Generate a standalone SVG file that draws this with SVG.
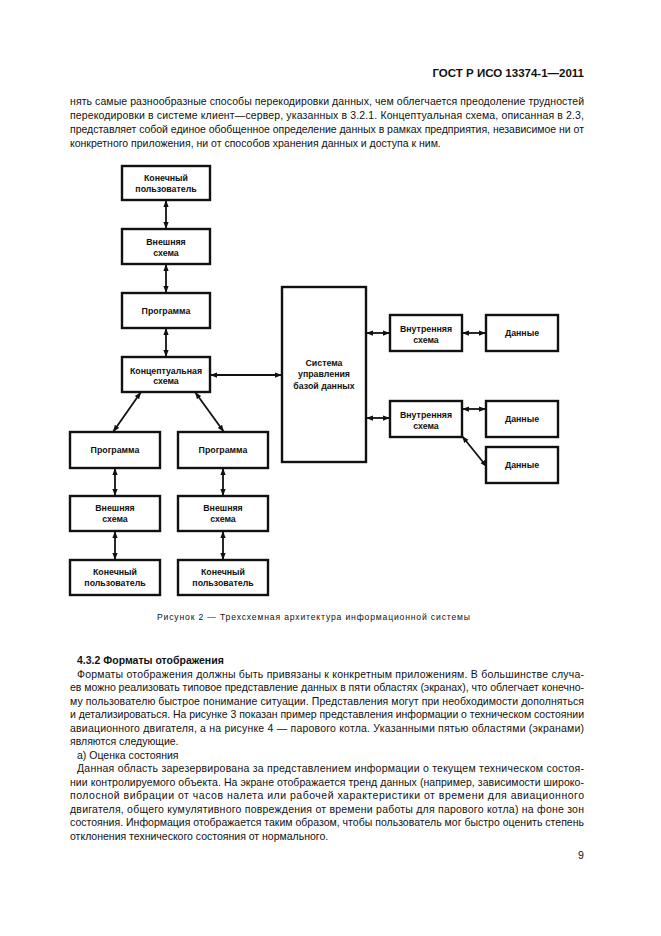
<svg xmlns="http://www.w3.org/2000/svg" width="661" height="936" viewBox="0 0 661 936">
<defs>
<style>
.pg{font-family:"Liberation Sans",Arial,sans-serif;font-size:10.5px;fill:#111}
.hd{font-family:"Liberation Sans",Arial,sans-serif;font-size:11.5px;font-weight:bold;fill:#111}
.bx{fill:#fff;stroke:#111;stroke-width:2.4}
.lb{font-family:"Liberation Sans",Arial,sans-serif;font-size:8.8px;font-weight:bold;fill:#111;text-anchor:middle}
.cn{fill:none;stroke:#111;stroke-width:1.8;marker-start:url(#ah);marker-end:url(#ah)}
.cap{font-family:"Liberation Sans",Arial,sans-serif;font-size:8.6px;fill:#111}
</style>
<marker id="ah" viewBox="0 0 8 6" refX="8" refY="3" markerWidth="7" markerHeight="6" markerUnits="userSpaceOnUse" orient="auto-start-reverse">
<path d="M0,0 L8,3 L0,6 Z" fill="#111"/>
</marker>
</defs>
<rect width="661" height="936" fill="#fff"/>

<text class="hd" x="584" y="77" text-anchor="end">ГОСТ Р ИСО 13374-1—2011</text>

<g id="intro">
<text class="pg" x="70" y="105" textLength="514" lengthAdjust="spacing">нять самые разнообразные способы перекодировки данных, чем облегчается преодоление трудностей</text>
<text class="pg" x="70" y="119" textLength="514" lengthAdjust="spacing">перекодировки в системе клиент—сервер, указанных в 3.2.1. Концептуальная схема, описанная в 2.3,</text>
<text class="pg" x="70" y="133" textLength="514" lengthAdjust="spacing">представляет собой единое обобщенное определение данных в рамках предприятия, независимое ни от</text>
<text class="pg" x="70" y="147">конкретного приложения, ни от способов хранения данных и доступа к ним.</text>
</g>

<g id="connectors">
<line class="cn" x1="166" y1="200" x2="166" y2="229"/>
<line class="cn" x1="166" y1="264" x2="166" y2="293"/>
<line class="cn" x1="166" y1="328" x2="166" y2="357"/>
<line class="cn" x1="210" y1="375" x2="282" y2="375"/>
<line class="cn" x1="141" y1="392" x2="113" y2="432"/>
<line class="cn" x1="195" y1="392" x2="224" y2="432"/>
<line class="cn" x1="115" y1="468" x2="115" y2="496"/>
<line class="cn" x1="115" y1="531" x2="115" y2="560"/>
<line class="cn" x1="223" y1="468" x2="223" y2="496"/>
<line class="cn" x1="223" y1="531" x2="223" y2="560"/>
<line class="cn" x1="366" y1="333" x2="390" y2="333"/>
<line class="cn" x1="462" y1="333" x2="486" y2="333"/>
<line class="cn" x1="366" y1="418" x2="390" y2="418"/>
<line class="cn" x1="462" y1="409" x2="486" y2="409"/>
<line class="cn" x1="462" y1="436" x2="487" y2="467"/>
</g>

<g id="user1"><rect class="bx" x="122" y="166" width="88" height="34"/><text class="lb" x="166" y="181">Конечный</text><text class="lb" x="166" y="192">пользователь</text></g>
<g id="ext1"><rect class="bx" x="122" y="229" width="88" height="35"/><text class="lb" x="166" y="245">Внешняя</text><text class="lb" x="166" y="256">схема</text></g>
<g id="prog1"><rect class="bx" x="122" y="293" width="88" height="35"/><text class="lb" x="166" y="314">Программа</text></g>
<g id="concept"><rect class="bx" x="122" y="357" width="88" height="35"/><text class="lb" x="166" y="374">Концептуальная</text><text class="lb" x="166" y="384">схема</text></g>

<g id="prog2"><rect class="bx" x="70" y="432" width="90" height="36"/><text class="lb" x="115" y="453">Программа</text></g>
<g id="ext2"><rect class="bx" x="70" y="496" width="90" height="35"/><text class="lb" x="115" y="511">Внешняя</text><text class="lb" x="115" y="522">схема</text></g>
<g id="user2"><rect class="bx" x="70" y="560" width="90" height="35"/><text class="lb" x="115" y="575">Конечный</text><text class="lb" x="115" y="586">пользователь</text></g>

<g id="prog3"><rect class="bx" x="178" y="432" width="90" height="36"/><text class="lb" x="223" y="453">Программа</text></g>
<g id="ext3"><rect class="bx" x="178" y="496" width="90" height="35"/><text class="lb" x="223" y="511">Внешняя</text><text class="lb" x="223" y="522">схема</text></g>
<g id="user3"><rect class="bx" x="178" y="560" width="90" height="35"/><text class="lb" x="223" y="575">Конечный</text><text class="lb" x="223" y="586">пользователь</text></g>

<g id="dbms"><rect class="bx" x="282" y="287" width="84" height="175"/><text class="lb" x="324" y="366">Система</text><text class="lb" x="324" y="377">управления</text><text class="lb" x="324" y="389">базой данных</text></g>

<g id="int1"><rect class="bx" x="390" y="315" width="72" height="36"/><text class="lb" x="426" y="332">Внутренняя</text><text class="lb" x="426" y="343">схема</text></g>
<g id="data1"><rect class="bx" x="486" y="315" width="72" height="36"/><text class="lb" x="522" y="336">Данные</text></g>
<g id="int2"><rect class="bx" x="390" y="401" width="72" height="36"/><text class="lb" x="426" y="418">Внутренняя</text><text class="lb" x="426" y="429">схема</text></g>
<g id="data2"><rect class="bx" x="486" y="401" width="72" height="36"/><text class="lb" x="522" y="422">Данные</text></g>
<g id="data3"><rect class="bx" x="486" y="447" width="72" height="36"/><text class="lb" x="522" y="468">Данные</text></g>

<text class="cap" x="157" y="620" textLength="313" lengthAdjust="spacing">Рисунок  2 — Трехсхемная архитектура информационной системы</text>

<g id="section">
<text class="pg" x="77" y="664" font-weight="bold">4.3.2  Форматы отображения</text>
<text class="pg" x="77" y="677.5" textLength="507" lengthAdjust="spacing">Форматы отображения должны быть привязаны к конкретным приложениям. В большинстве случа-</text>
<text class="pg" x="70" y="691" textLength="514" lengthAdjust="spacing">ев можно реализовать типовое представление данных в пяти областях (экранах), что облегчает конечно-</text>
<text class="pg" x="70" y="704.5" textLength="514" lengthAdjust="spacing">му пользователю быстрое понимание ситуации. Представления могут при необходимости дополняться</text>
<text class="pg" x="70" y="718" textLength="514" lengthAdjust="spacing">и детализироваться. На рисунке 3 показан пример представления информации о техническом состоянии</text>
<text class="pg" x="70" y="731.5" textLength="514" lengthAdjust="spacing">авиационного двигателя, а на рисунке 4 — парового котла. Указанными пятью областями (экранами)</text>
<text class="pg" x="70" y="745">являются следующие.</text>
<text class="pg" x="77" y="758.5">а)  Оценка состояния</text>
<text class="pg" x="77" y="772" textLength="507" lengthAdjust="spacing">Данная область зарезервирована за представлением информации о текущем техническом состоя-</text>
<text class="pg" x="70" y="785.5" textLength="514" lengthAdjust="spacing">нии контролируемого объекта. На экране отображается тренд данных (например, зависимости широко-</text>
<text class="pg" x="70" y="799" textLength="514" lengthAdjust="spacing">полосной вибрации от часов налета или рабочей характеристики от времени для авиационного</text>
<text class="pg" x="70" y="812.5" textLength="514" lengthAdjust="spacing">двигателя, общего кумулятивного повреждения от времени работы для парового котла) на фоне зон</text>
<text class="pg" x="70" y="826" textLength="514" lengthAdjust="spacing">состояния. Информация отображается таким образом, чтобы пользователь мог быстро оценить степень</text>
<text class="pg" x="70" y="839.5">отклонения технического состояния от нормального.</text>
</g>

<text class="pg" x="578" y="859">9</text>
</svg>
